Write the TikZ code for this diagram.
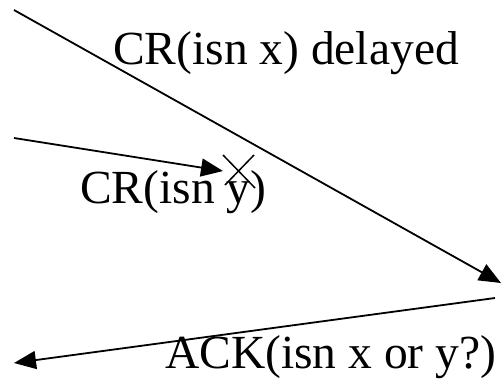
\documentclass[tikz,border=0pt]{standalone}
\usepackage{fontspec}
\setmainfont{Liberation Serif}
\usetikzlibrary{arrows.meta}
\begin{document}
\begin{tikzpicture}[x=1pt,y=-1pt,
  msg/.style={line width=1.8pt,-{Triangle[length=22pt,width=18pt]}},
  lbl/.style={anchor=base west,inner sep=0pt,font=\fontsize{47.5}{50}\selectfont},
  cross/.style={line width=1.5pt}]
\useasboundingbox (0,0) rectangle (502,388);
\coordinate (a1) at (14,10);
\coordinate (a2) at (501,283);
\coordinate (b1) at (14,138);
\coordinate (b2) at (223,171);
\coordinate (c1) at (495,298);
\coordinate (c2) at (14,363);
\coordinate (x1) at (223,155);
\coordinate (x2) at (255,188);
\coordinate (x3) at (254,155);
\coordinate (x4) at (225,185);
\node[lbl] (t1) at (113,64) {CR(isn x) delayed};
\node[lbl] (t2) at (80,203) {CR(isn y)};
\node[lbl] (t3) at (165,368) {ACK(isn x or y?)};
\draw[msg] (a1) -- (a2);
\draw[msg] (b1) -- (b2);
\draw[msg] (c1) -- (c2);
\draw[cross] (x1) -- (x2);
\draw[cross] (x3) -- (x4);
\end{tikzpicture}
\end{document}
